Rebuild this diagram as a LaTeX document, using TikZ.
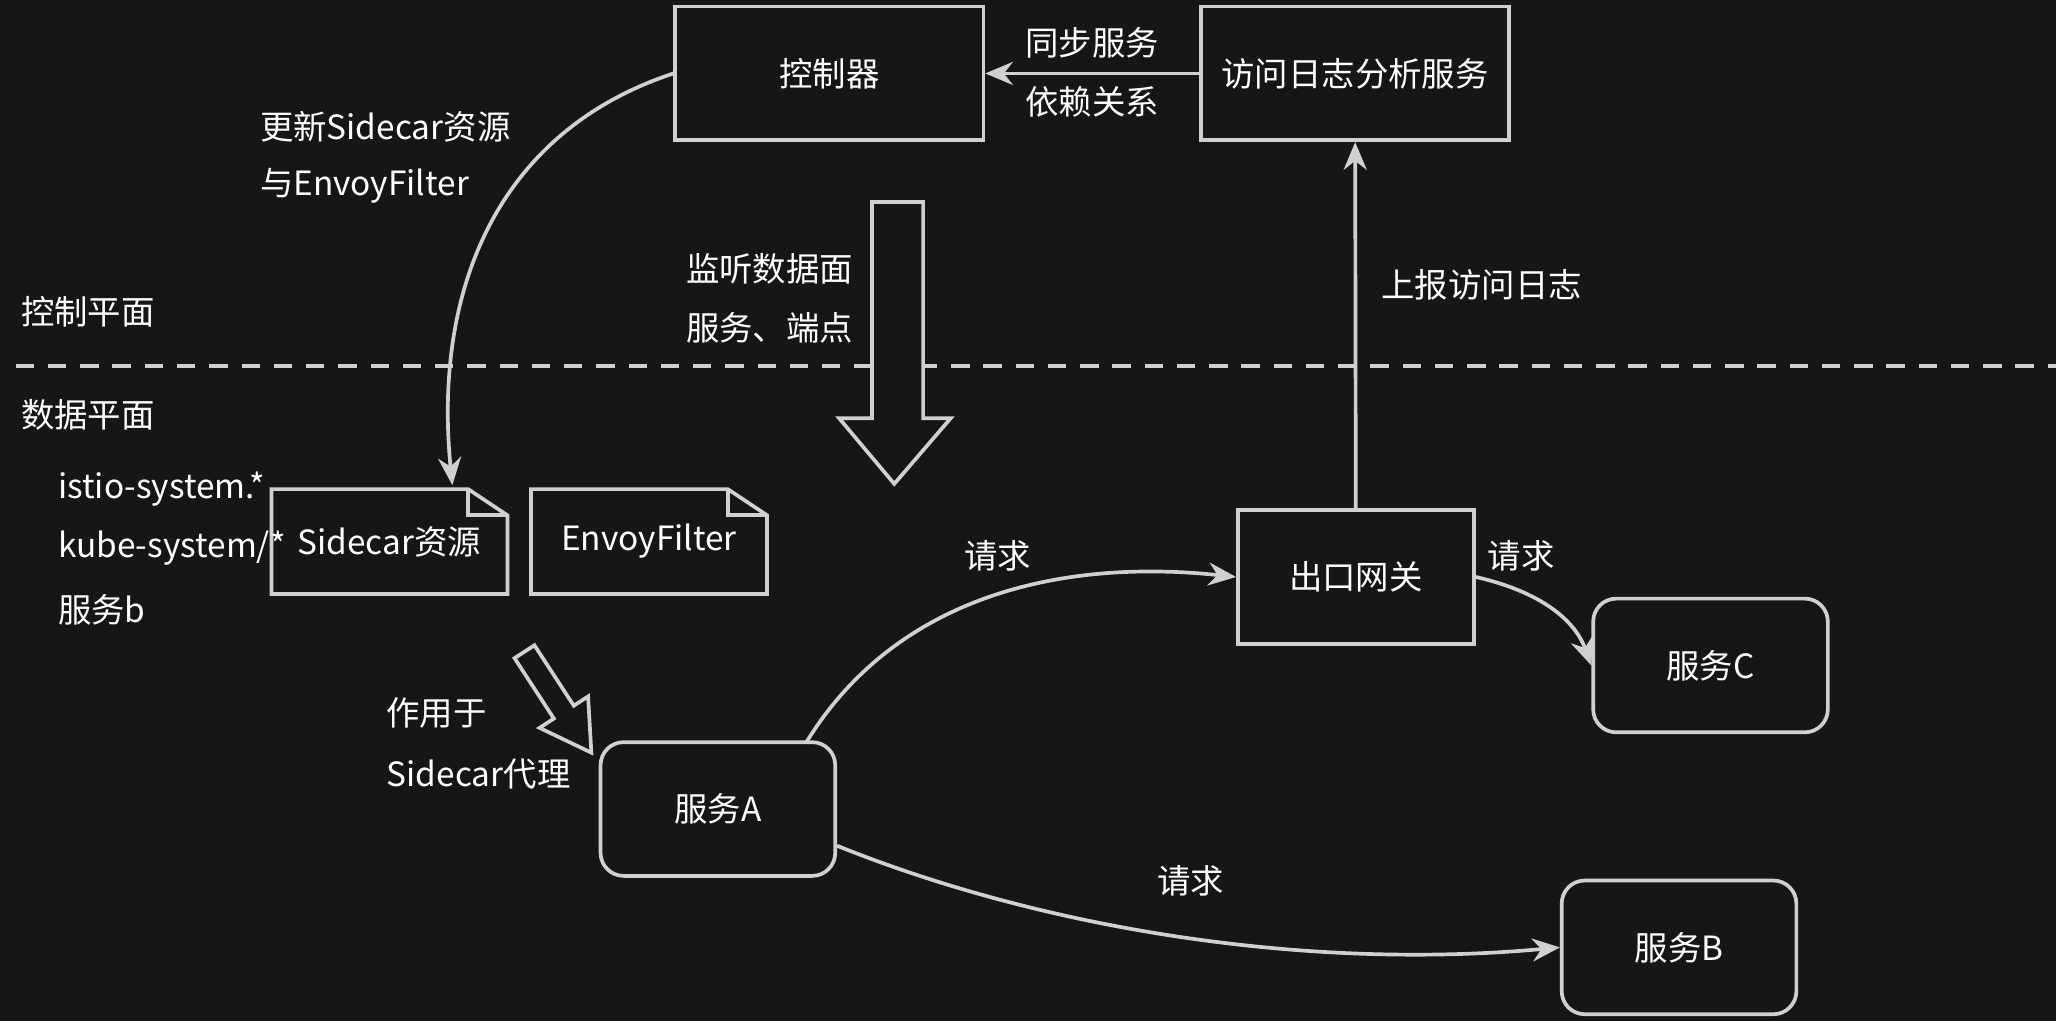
\documentclass[tikz,border=0pt]{standalone}
\usepackage{fontspec}
\setmainfont{Noto Sans CJK SC}
\usetikzlibrary{arrows.meta}
\definecolor{bg}{HTML}{161616}
\definecolor{ln}{HTML}{D0D0D0}
\begin{document}
\begin{tikzpicture}[x=0.02cm,y=-0.02cm,
  every node/.style={text=white,font=\fontsize{14.5}{17}\selectfont},
  box/.style={draw=ln,line width=1.6pt,minimum width=4.7cm,minimum height=2.04cm,inner sep=0pt},
  rbox/.style={box,rounded corners=10pt,minimum width=3.58cm},
  lbl/.style={inner sep=0pt},
  arr/.style={draw=ln,line width=1.6pt,-{Stealth[length=12pt,width=10pt]}},
  hollow/.style={draw=ln,line width=1.6pt,fill=bg}]
\fill[bg] (0,0) rectangle (1568,779);
\useasboundingbox (0,0) rectangle (1568,779);
\node[box] (ctl) at (632.5,56) {控制器};
\node[box] (ana) at (1033.5,56) {访问日志分析服务};
\draw[arr] (ana.west) -- (ctl.east);
\node[lbl] at (833,33) {同步服务};
\node[lbl] at (833,78) {依赖关系};
\draw[dashed,draw=ln,line width=1.6pt,dash pattern=on 8pt off 6pt] (12,279) -- (1568,279);
\node[lbl] at (67,238) {控制平面};
\node[lbl] at (67,316) {数据平面};
% documents
\coordinate (s1) at (207,373);
\draw[hollow] (207,373) -- (357,373) -- (387,393) -- (387,453) -- (207,453) -- cycle;
\draw[ln,line width=1.6pt] (357,373) -- (357,393) -- (387,393);
\node[lbl] (sc) at (297,413) {Sidecar资源};
\draw[hollow] (405,373) -- (555,373) -- (585,393) -- (585,453) -- (405,453) -- cycle;
\draw[ln,line width=1.6pt] (555,373) -- (555,393) -- (585,393);
\node[lbl] (ef) at (495,413) {EnvoyFilter};
\coordinate (sctop) at (345,370);
\draw[arr] (ctl.west) .. controls (380,100) and (330,220) .. (sctop);
\node[lbl,anchor=west] at (198,97) {更新Sidecar资源};
\node[lbl,anchor=west] at (198,142) {与EnvoyFilter};
% big down arrow
\draw[hollow] (665,154) -- (704,154) -- (704,319) -- (725,319) -- (682,369) -- (640,319) -- (665,319) -- cycle;
\node[lbl] at (587,205) {监听数据面};
\node[lbl] at (587,250) {服务、端点};
\node[lbl,anchor=west] at (44,373) {istio-system.*};
\node[lbl,anchor=west] at (44,418) {kube-system/*};
\node[lbl,anchor=west] at (44,465) {服务b};
% diagonal arrow
\draw[hollow] (407.6,492.1) -- (437.6,538.2) -- (448.5,531.1) -- (451,574) -- (411.5,555.1) -- (422.4,548.0) -- (392.4,501.9) -- cycle;
\node[lbl] at (333,544) {作用于};
\node[lbl] at (365,590) {Sidecar代理};
\node[rbox] (a) at (547.5,617) {服务A};
\node[box,minimum width=3.6cm] (gw) at (1034,440) {出口网关};
\node[rbox] (c) at (1304.5,507.5) {服务C};
\node[rbox] (b) at (1280.5,722.5) {服务B};
\draw[arr] (615,566) .. controls (680,460) and (800,425) .. (gw.west);
\node[lbl] at (761,424) {请求};
\draw[arr] (gw.east) .. controls (1170,450) and (1200,470) .. (c.west);
\node[lbl] at (1160,424) {请求};
\draw[arr] (a.east) ++(0,28) .. controls (800,710) and (1000,740) .. (b.west);
\node[lbl] at (908,672) {请求};
\draw[arr] (gw.north) -- (ana.south);
\node[lbl] at (1130,217) {上报访问日志};
\end{tikzpicture}
\end{document}
